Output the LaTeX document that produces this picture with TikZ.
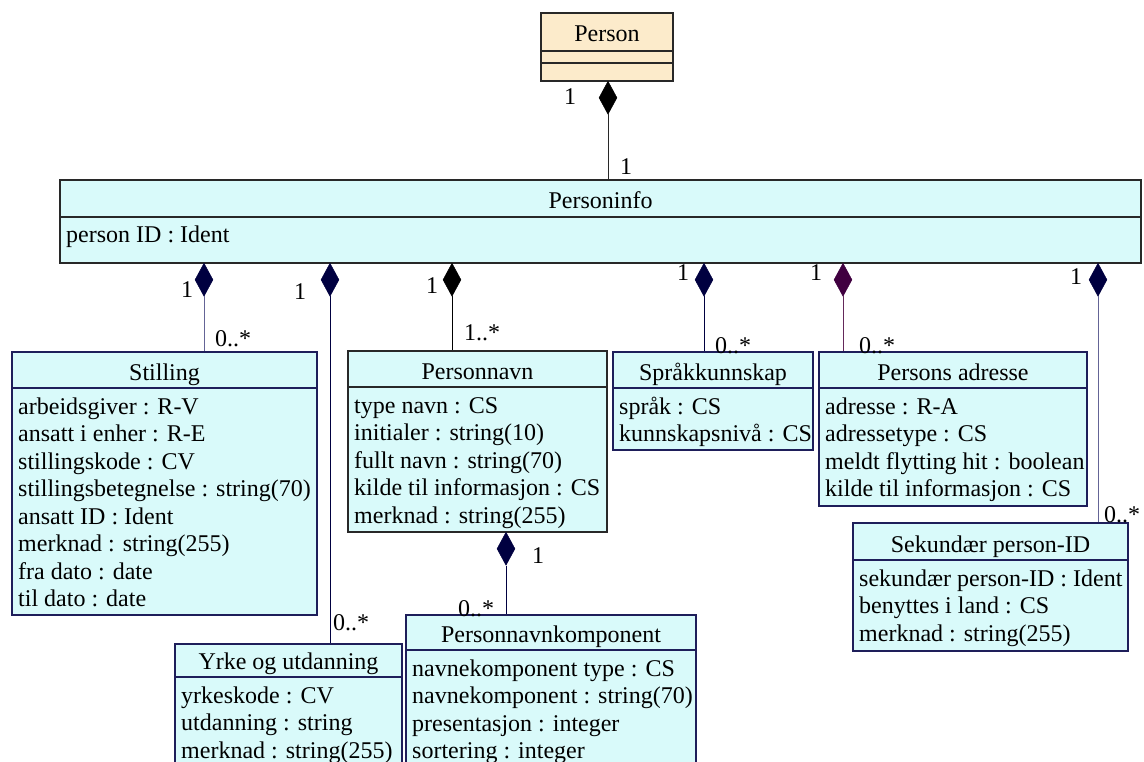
\documentclass[tikz,border=0pt]{standalone}
\usepackage{fontspec}
\setmainfont{Liberation Serif}
\usetikzlibrary{shapes.geometric}
\definecolor{cfill}{RGB}{217,250,250}
\definecolor{ofill}{RGB}{252,235,203}
\definecolor{navy}{RGB}{0,0,64}
\definecolor{plum}{RGB}{64,0,64}
\definecolor{bnavy}{RGB}{30,30,90}
\definecolor{bdark}{RGB}{40,40,40}
\definecolor{lnavy}{RGB}{100,100,150}
\definecolor{lplum}{RGB}{100,40,90}
\tikzset{
 txt/.style={font=\fontsize{24}{27.5}\selectfont, inner sep=0pt, text=black},
 clsbox/.style={draw=#1, fill=cfill, line width=1.3pt, inner sep=0pt, rectangle},
 divline/.style={draw=#1, line width=1.1pt},
 diam/.style={diamond, draw=#1, fill=#1, minimum width=18pt, minimum height=33pt, inner sep=0pt, anchor=north, line width=0.5pt},
 conn/.style={draw=#1, line width=1pt},
}
\newcommand\UMLcls[9]{%
 \node[clsbox=#7, minimum width={(#4)-(#2)}, minimum height={(#5)-(#3)}] (#1) at ({((#2)+(#4))/2},{((#3)+(#5))/2}) {};
 \draw[divline=#7] (#2,#6) -- (#4,#6);
 \node[txt, anchor=base] (#1-t) at ({((#2)+(#4))/2},{(#6)-8}) {#8};
 \foreach \a [count=\i] in {#9} {\node[txt, anchor=base west] (#1-a\i) at ({(#2)+6},{(#6)+26+27.5*(\i-1)}) {\a};}
}
\begin{document}
\begin{tikzpicture}[x=1pt,y=-1pt]
\useasboundingbox (0,0) rectangle (1144,762);
\clip (0,0) rectangle (1144,762);
\fill[white] (0,0) rectangle (1144,762);
% Person
\node[draw=bdark, fill=ofill, line width=1.3pt, minimum width=132pt, minimum height=68pt, inner sep=0pt] (person) at (607,47) {};
\draw[divline=bdark] (541,51) -- (673,51);
\draw[divline=bdark] (541,63) -- (673,63);
\node[txt, anchor=base] (person-t) at (607,42) {Person};
% classes
\UMLcls{pinfo}{60}{180}{1141}{263}{217}{bdark}{Personinfo}{person ID : Ident}
\UMLcls{stilling}{12}{352}{317}{615}{388}{bnavy}{Stilling}{arbeidsgiver : R-V, ansatt i enher : R-E, stillingskode : CV, stillingsbetegnelse : string(70), ansatt ID : Ident, merknad : string(255), fra dato : date, til dato : date}
\UMLcls{yrke}{175}{644}{402}{800}{677}{bnavy}{Yrke og utdanning}{yrkeskode : CV, utdanning : string, merknad : string(255)}
\UMLcls{pnavn}{348}{351}{607}{532}{387}{bdark}{Personnavn}{type navn : CS, initialer : string(10), fullt navn : string(70), kilde til informasjon : CS, merknad : string(255)}
\UMLcls{pnk}{406}{615}{696}{800}{650}{bnavy}{Personnavnkomponent}{navnekomponent type : CS, navnekomponent : string(70), presentasjon : integer, sortering : integer}
\UMLcls{sprak}{613}{352}{813}{450}{388}{bnavy}{Språkkunnskap}{språk : CS, kunnskapsnivå : CS}
\UMLcls{adr}{819}{352}{1087}{506}{388}{bnavy}{Persons adresse}{adresse : R-A, adressetype : CS, meldt flytting hit : boolean, kilde til informasjon : CS}
\UMLcls{sek}{853}{523}{1128}{651}{560}{bnavy}{Sekundær person-ID}{sekundær person-ID : Ident, benyttes i land : CS, merknad : string(255)}
% diamonds and connectors
\node[diam=black] (d0) at (608,81) {};
\draw[conn=bdark] (d0.south) -- (d0.south |- pinfo.north);
\node[diam=navy] (d1) at (204,263) {};
\draw[conn=lnavy] (d1.south) -- (d1.south |- stilling.north);
\node[diam=navy] (d2) at (330,263) {};
\draw[conn=navy] (d2.south) -- (d2.south |- yrke.north);
\node[diam=black] (d3) at (452,263) {};
\draw[conn=black] (d3.south) -- (d3.south |- pnavn.north);
\node[diam=navy] (d4) at (704,263) {};
\draw[conn=navy] (d4.south) -- (d4.south |- sprak.north);
\node[diam=plum] (d5) at (843,263) {};
\draw[conn=lplum] (d5.south) -- (d5.south |- adr.north);
\node[diam=navy] (d6) at (1098,263) {};
\draw[conn=lnavy] (d6.south) -- (d6.south |- sek.north);
\node[diam=navy] (d7) at (506,532) {};
\draw[conn=navy] (d7.south) -- (d7.south |- pnk.north);
% multiplicities
\node[txt, anchor=base] (m0a) at (570,105) {1};
\node[txt, anchor=base] (m0b) at (626,175) {1};
\node[txt, anchor=base] (m1a) at (187,298) {1};
\node[txt, anchor=base] (m1b) at (233,346) {0..*};
\node[txt, anchor=base] (m2a) at (300,300) {1};
\node[txt, anchor=base] (m2b) at (351,630) {0..*};
\node[txt, anchor=base] (m3a) at (432,294) {1};
\node[txt, anchor=base] (m3b) at (482,341) {1..*};
\node[txt, anchor=base] (m4a) at (683,281) {1};
\node[txt, anchor=base] (m4b) at (733,353) {0..*};
\node[txt, anchor=base] (m5a) at (816,281) {1};
\node[txt, anchor=base] (m5b) at (877,353) {0..*};
\node[txt, anchor=base] (m6a) at (1076,285) {1};
\node[txt, anchor=base] (m6b) at (1122,522) {0..*};
\node[txt, anchor=base] (m7a) at (538,563) {1};
\node[txt, anchor=base] (m7b) at (476,616) {0..*};
\end{tikzpicture}
\end{document}
